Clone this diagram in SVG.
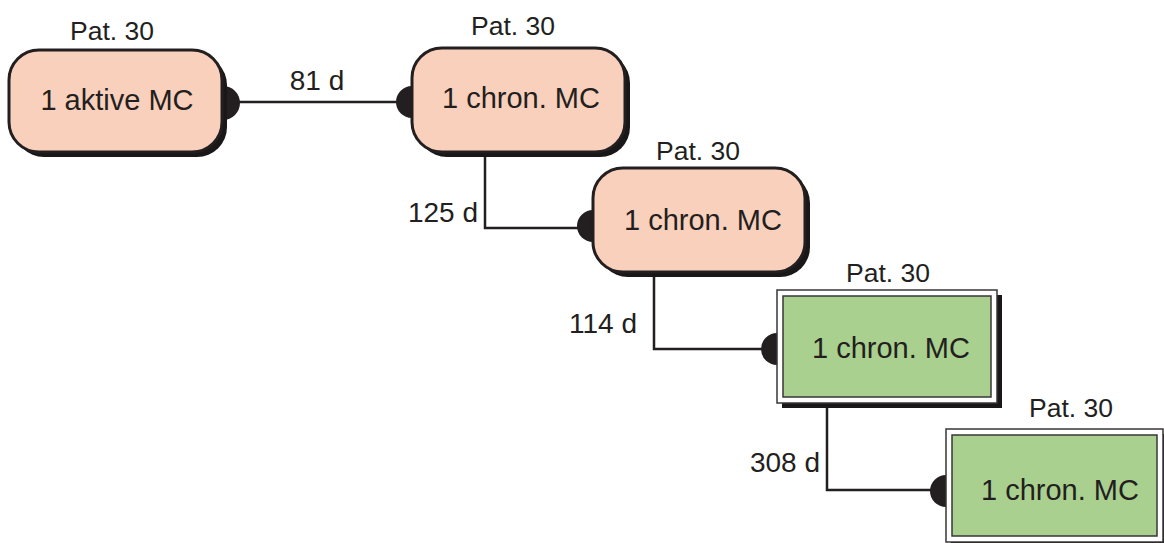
<svg xmlns="http://www.w3.org/2000/svg" width="1164" height="543" viewBox="0 0 1164 543">
  <style>
    text { font-family: "Liberation Sans", Arial, sans-serif; fill: #231f20; }
    .lbl { font-size: 26.5px; text-anchor: middle; }
    .main { font-size: 29px; text-anchor: middle; }
    .dur { font-size: 28px; }
    .shadow { fill: #1a1718; }
    .round { fill: #f9d0bc; stroke: #231f20; stroke-width: 3; }
    .frame { fill: #ffffff; stroke: #3a3637; stroke-width: 1.5; }
    .box { fill: #a9d08f; stroke: #3a3637; stroke-width: 1.5; }
    .wire { fill: none; stroke: #231f20; stroke-width: 2.5; }
    .knob { fill: #231f20; }
  </style>

  <g id="connectors">
    <path class="wire" d="M222 102 H412"/>
    <path class="wire" d="M485 152 V228 H593"/>
    <path class="wire" d="M654 272 V349 H777"/>
    <path class="wire" d="M827 403 V490 H946"/>
    <circle class="knob" cx="223" cy="103" r="17"/>
    <circle class="knob" cx="412" cy="102" r="16"/>
    <circle class="knob" cx="593" cy="226" r="16"/>
    <circle class="knob" cx="777" cy="349" r="16"/>
    <circle class="knob" cx="946" cy="491" r="16"/>
    <text class="dur" x="317" y="90" text-anchor="middle">81 d</text>
    <text class="dur" x="478" y="222" text-anchor="end">125 d</text>
    <text class="dur" x="637" y="333" text-anchor="end">114 d</text>
    <text class="dur" x="820" y="472" text-anchor="end">308 d</text>
  </g>

  <g id="node1">
    <rect class="shadow" x="14" y="55" width="213" height="102" rx="30"/>
    <rect class="round" x="9" y="50" width="213" height="102" rx="30"/>
    <text class="main" x="117" y="110">1 aktive MC</text>
    <text class="lbl" x="112" y="40">Pat. 30</text>
  </g>

  <g id="node2">
    <rect class="shadow" x="417" y="53" width="213" height="104" rx="30"/>
    <rect class="round" x="412" y="48" width="213" height="104" rx="30"/>
    <text class="main" x="521" y="108">1 chron. MC</text>
    <text class="lbl" x="513" y="35">Pat. 30</text>
  </g>

  <g id="node3">
    <rect class="shadow" x="598" y="173" width="212" height="104" rx="30"/>
    <rect class="round" x="593" y="168" width="212" height="104" rx="30"/>
    <text class="main" x="703" y="230">1 chron. MC</text>
    <text class="lbl" x="698" y="160">Pat. 30</text>
  </g>

  <g id="node4">
    <rect class="shadow" x="782" y="295" width="220" height="113"/>
    <rect class="frame" x="777" y="290" width="220" height="113"/>
    <rect class="box" x="783" y="296" width="208" height="101"/>
    <text class="main" x="891" y="358">1 chron. MC</text>
    <text class="lbl" x="888" y="282">Pat. 30</text>
  </g>

  <g id="node5">
    <rect class="shadow" x="951" y="434" width="217" height="113"/>
    <rect class="frame" x="946" y="429" width="217" height="113"/>
    <rect class="box" x="952" y="435" width="205" height="101"/>
    <text class="main" x="1060" y="500">1 chron. MC</text>
    <text class="lbl" x="1071" y="417">Pat. 30</text>
  </g>
</svg>
